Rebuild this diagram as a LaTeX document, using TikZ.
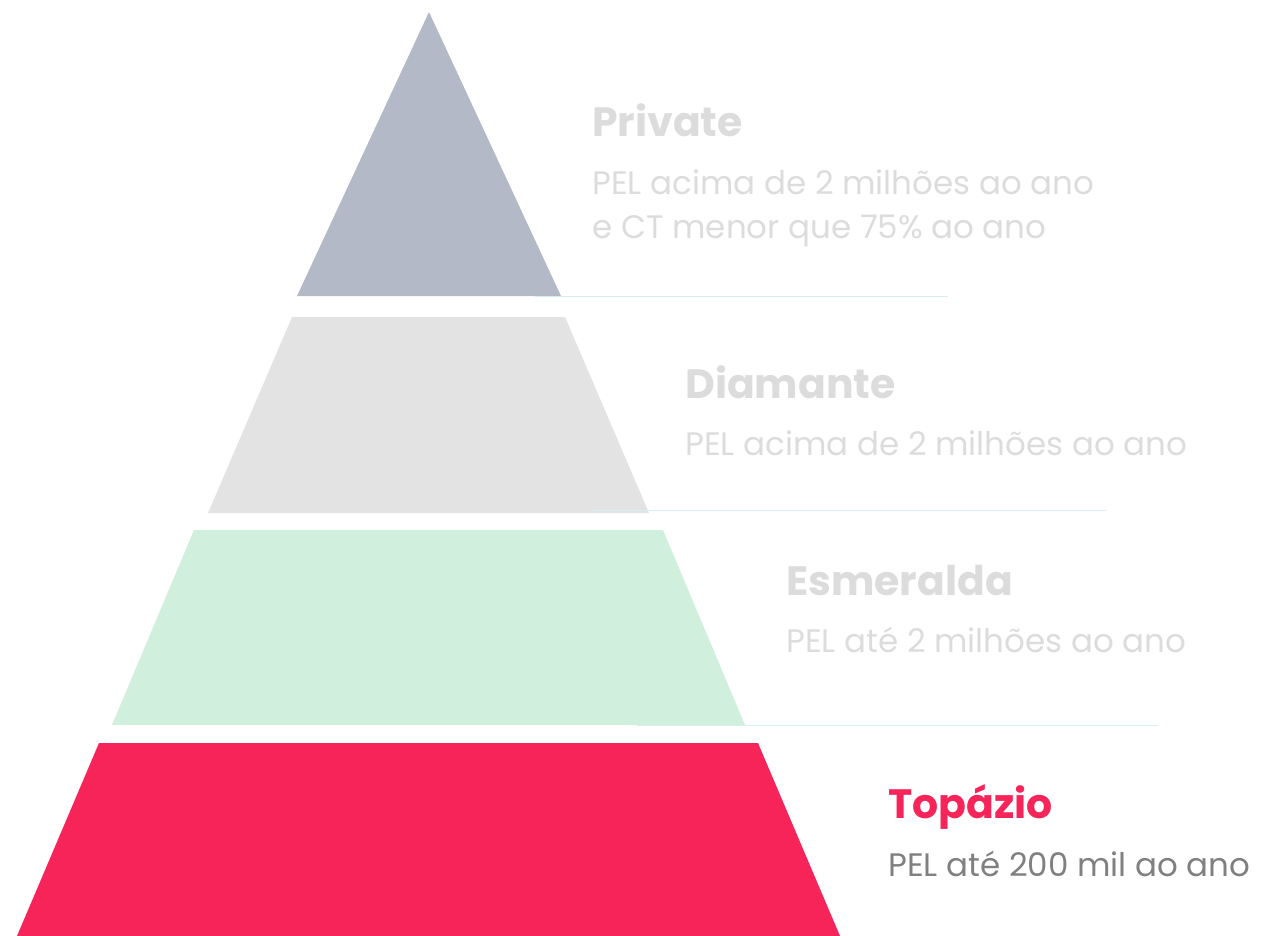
\documentclass[tikz,border=0pt]{standalone}
\usepackage{fontspec}
\setmainfont{Poppins}
\definecolor{privcol}{HTML}{B3B9C7}
\definecolor{diamcol}{HTML}{E3E3E3}
\definecolor{esmecol}{HTML}{D0EFDC}
\definecolor{topacol}{HTML}{F7245A}
\definecolor{linecol}{HTML}{D8EEF2}
\definecolor{fadetext}{HTML}{DCDCDC}
\definecolor{subtext}{HTML}{808080}
\begin{document}
\begin{tikzpicture}[x=1pt,y=-1pt,
  sepline/.style={draw=linecol,line width=1.2pt},
  title/.style={anchor=base west,inner sep=0pt,font=\fontsize{41}{46}\selectfont\bfseries},
  sub/.style={anchor=base west,inner sep=0pt,font=\fontsize{32.5}{44}\selectfont}]
\useasboundingbox (0,0) rectangle (1263,936);
% tiers
\fill[privcol] (429,12) -- (561,296) -- (297,296) -- cycle;
\fill[diamcol] (292,317) -- (565,317) -- (649,513) -- (208,513) -- cycle;
\fill[esmecol] (194,530) -- (663,530) -- (745,725) -- (112,725) -- cycle;
\fill[topacol] (99,743) -- (758,743) -- (840,936) -- (17,936) -- cycle;
% separator lines
\coordinate (l1a) at (535,296.5); \coordinate (l1b) at (948,296.5);
\coordinate (l2a) at (592,510.5); \coordinate (l2b) at (1106,510.5);
\coordinate (l3a) at (637,725.5); \coordinate (l3b) at (1158,725.5);
\draw[sepline] (l1a) -- (l1b);
\draw[sepline] (l2a) -- (l2b);
\draw[sepline] (l3a) -- (l3b);
% texts
\node[title,text=fadetext] (t1) at (592,137) {Private};
\node[sub,text=fadetext] (s1a) at (592,194) {PEL acima de 2 milhões ao ano};
\node[sub,text=fadetext] (s1b) at (592,238) {e CT menor que 75\% ao ano};
\node[title,text=fadetext] (t2) at (685,398) {Diamante};
\node[sub,text=fadetext] (s2) at (685,455) {PEL acima de 2 milhões ao ano};
\node[title,text=fadetext] (t3) at (786,595) {Esmeralda};
\node[sub,text=fadetext] (s3) at (786,652) {PEL até 2 milhões ao ano};
\node[title,text=topacol] (t4) at (888,818) {Topázio};
\node[sub,text=subtext] (s4) at (888,876) {PEL até 200 mil ao ano};
\end{tikzpicture}
\end{document}
